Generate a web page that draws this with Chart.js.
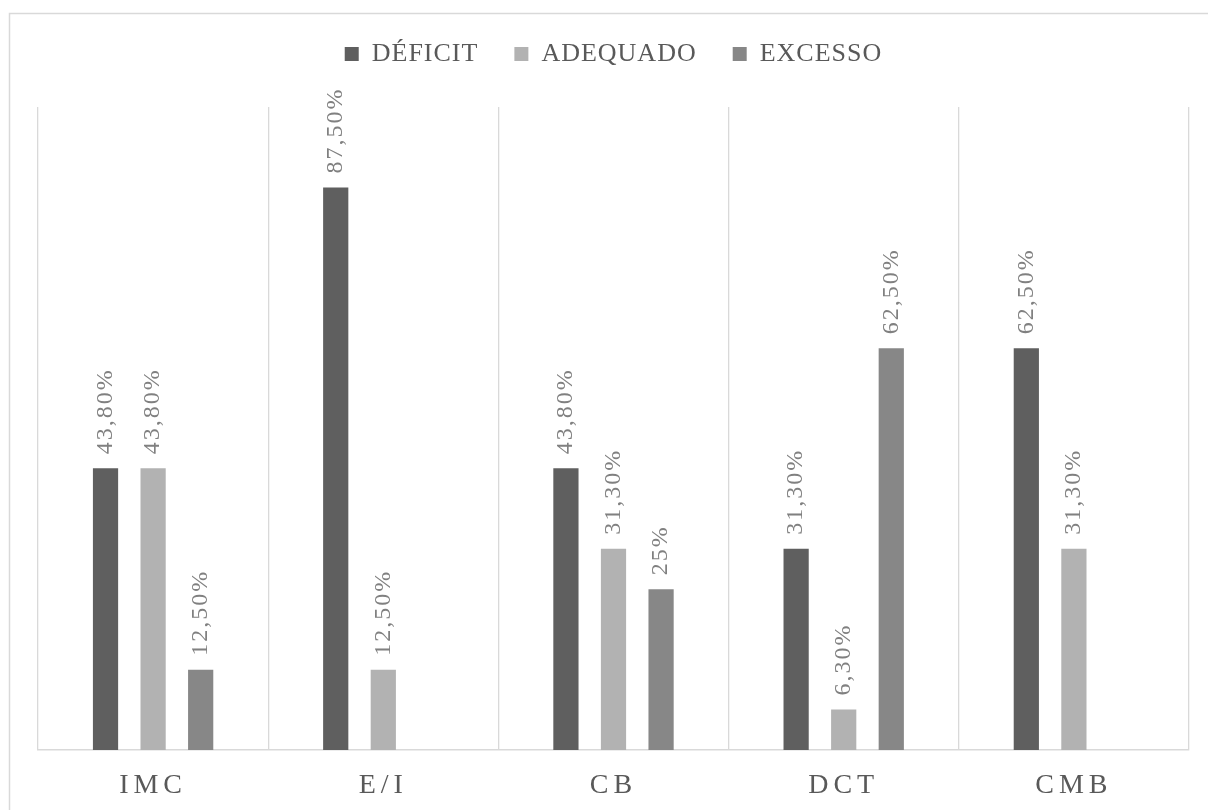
<!DOCTYPE html>
<html>
<head>
<meta charset="utf-8">
<style>
  html, body { margin: 0; padding: 0; background: #fff; }
  canvas { display: block; }
</style>
<script src="https://cdn.jsdelivr.net/npm/chart.js@4/dist/chart.umd.min.js"></script>
</head>
<body>
<canvas id="chart" width="1208" height="810"></canvas>
<script>
const categories = ['IMC', 'E/I', 'CB', 'DCT', 'CMB'];
const seriesNames = ['DÉFICIT', 'ADEQUADO', 'EXCESSO'];
const deficit = [43.8, 87.5, 43.8, 31.3, 62.5];
const adequado = [43.8, 12.5, 31.3, 6.3, 31.3];
const excesso = [12.5, null, 25, 62.5, null];
const seriesColors = ['#5f5f5f', '#b2b2b2', '#878787'];

const FONT = "'Liberation Serif', 'Times New Roman', serif";

function fmt(v) {
    if (Number.isInteger(v)) return v + '%';
    return v.toFixed(2).replace('.', ',') + '%';
}

// outer frame, rotated value labels and letter spacing
const framePlugin = {
    id: 'frame',
    beforeLayout(chart) {
        chart.ctx.letterSpacing = '1px';
        const lg = chart.legend;
        if (lg && !lg._patched) {
            const fit = lg.fit.bind(lg);
            lg.fit = function () {
                fit();
                this.height += 30;
            };
            lg._patched = true;
        }
    },
    beforeDraw(chart) {
        const ctx = chart.ctx;
        ctx.letterSpacing = '1px';
        ctx.save();
        ctx.strokeStyle = '#d9d9d9';
        ctx.lineWidth = 1.5;
        ctx.strokeRect(9.5, 13.5, 1210, 820);
        ctx.restore();
    },
    afterDatasetsDraw(chart) {
        const ctx = chart.ctx;
        chart.data.datasets.forEach((ds, di) => {
            const meta = chart.getDatasetMeta(di);
            meta.data.forEach((el, i) => {
                const v = ds.data[i];
                if (v === null || v === undefined) return;
                ctx.save();
                ctx.letterSpacing = '2px';
                ctx.translate(el.x, el.y - 14);
                ctx.rotate(-Math.PI / 2);
                ctx.font = '24px ' + FONT;
                ctx.fillStyle = '#808080';
                ctx.textAlign = 'left';
                ctx.textBaseline = 'middle';
                ctx.fillText(fmt(v), 0, 0);
                ctx.restore();
            });
        });
        // tick labels come after this (ticks.z = 1)
        ctx.letterSpacing = '5px';
    },
    afterDraw(chart) {
        chart.ctx.letterSpacing = '1px';
    }
};

new Chart(document.getElementById('chart').getContext('2d'), {
    type: 'bar',
    data: {
        labels: categories,
        datasets: [
            { label: seriesNames[0], data: deficit, backgroundColor: seriesColors[0] },
            { label: seriesNames[1], data: adequado, backgroundColor: seriesColors[1] },
            { label: seriesNames[2], data: excesso, backgroundColor: seriesColors[2] },
        ],
    },
    options: {
        responsive: false,
        animation: false,
        devicePixelRatio: 1,
        categoryPercentage: 0.62,
        barPercentage: 0.53,
        layout: { padding: { left: 38, right: 19, top: 5, bottom: 0 } },
        plugins: {
            legend: {
                position: 'top',
                labels: {
                    boxWidth: 14,
                    boxHeight: 14,
                    padding: 36,
                    color: '#595959',
                    font: { family: FONT, size: 26 },
                },
            },
            tooltip: { enabled: false },
        },
        scales: {
            x: {
                afterFit(scale) {
                    scale.height = 60;
                },
                grid: { color: '#d9d9d9', lineWidth: 1.3, drawTicks: false, offset: true },
                border: { color: '#d9d9d9', width: 1.5 },
                ticks: {
                    z: 1,
                    color: '#595959',
                    padding: 19,
                    maxRotation: 0,
                    font: { family: FONT, size: 28 },
                },
            },
            y: {
                display: false,
                min: 0,
                max: 100,
            },
        },
    },
    plugins: [framePlugin],
});
</script>
</body>
</html>
